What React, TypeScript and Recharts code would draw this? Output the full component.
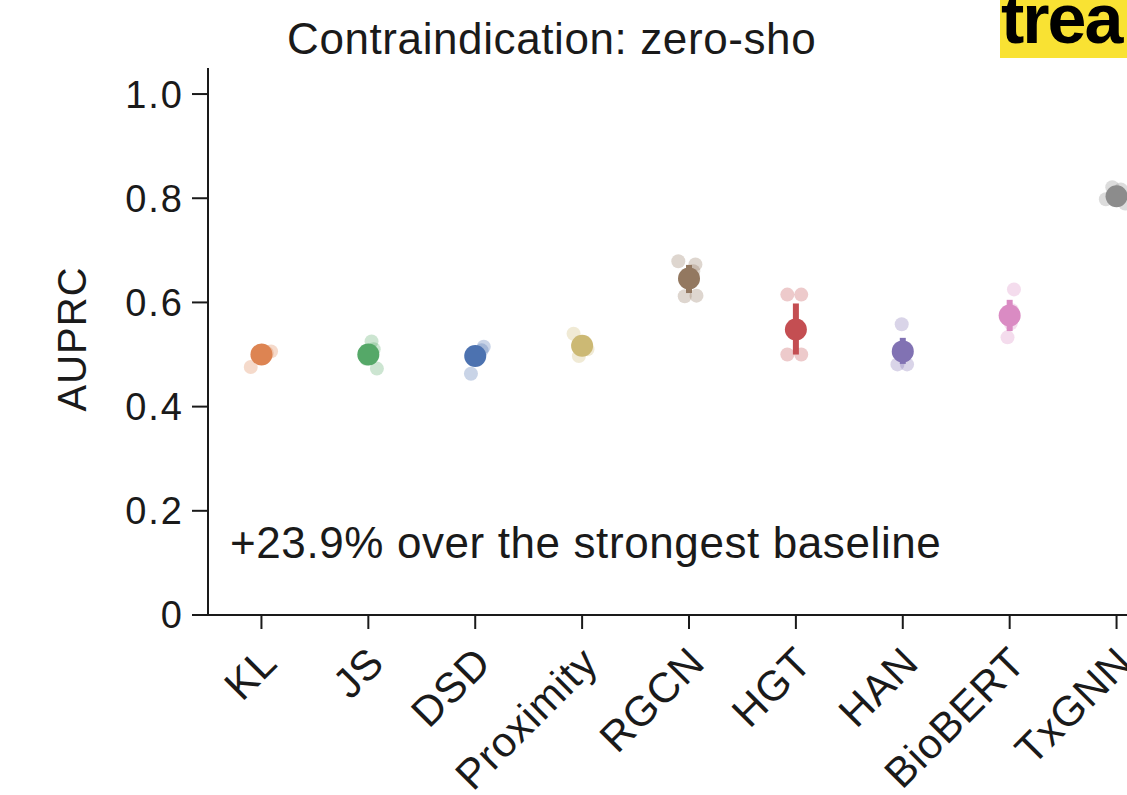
import React from "react";
import { ComposedChart, Scatter, XAxis, YAxis, ErrorBar } from "recharts";

const methods = ["KL", "JS", "DSD", "Proximity", "RGCN", "HGT", "HAN", "BioBERT", "TxGNN"];
const colors = ["#dd8452", "#55a868", "#4c72b0", "#ccb974", "#937860", "#c44e52", "#8172b3", "#da8bc3", "#8c8c8c"];
const means = [0.5, 0.5, 0.497, 0.517, 0.646, 0.548, 0.506, 0.575, 0.804];
const errLow = [0.006, 0.006, 0.006, 0.006, 0.028, 0.048, 0.024, 0.03, 0.006];
const errHigh = [0.006, 0.006, 0.006, 0.006, 0.026, 0.05, 0.026, 0.03, 0.006];

// individual runs, with horizontal jitter (in category units)
const samples = [
  [0.476, 0.506, 0.503, 0.498, 0.5],
  [0.525, 0.473, 0.51, 0.492, 0.5],
  [0.515, 0.463, 0.508, 0.492, 0.5],
  [0.54, 0.497, 0.522, 0.51, 0.515],
  [0.679, 0.673, 0.612, 0.613, 0.66],
  [0.615, 0.615, 0.5, 0.5, 0.548],
  [0.558, 0.481, 0.481, 0.5, 0.51],
  [0.625, 0.533, 0.585, 0.575, 0.56],
  [0.821, 0.798, 0.817, 0.79, 0.8],
];
const jitter = [
  [-0.1, 0.09, 0.05, -0.03, 0.02],
  [0.03, 0.08, 0.05, -0.02, 0.01],
  [0.08, -0.04, 0.06, -0.02, 0.03],
  [-0.08, -0.03, 0.03, 0.05, -0.01],
  [-0.1, 0.06, -0.04, 0.07, 0.04],
  [-0.08, 0.05, -0.08, 0.05, 0.0],
  [-0.01, -0.05, 0.04, 0.02, -0.02],
  [0.04, -0.02, 0.02, -0.03, 0.01],
  [-0.04, -0.1, 0.04, 0.08, 0.0],
];
const yTicks = [0, 0.2, 0.4, 0.6, 0.8, 1.0];

const FONT = "'Liberation Sans', Arial, sans-serif";
const INK = "#1a1a1a";

const XTick = (props: any) => {
  const { x, y, payload } = props;
  const tx = x + 18;
  const ty = y + 34;
  return (
    <text x={tx} y={ty} transform={`rotate(-45 ${tx} ${ty})`} textAnchor="end" fontSize={42} letterSpacing={0.8} fontFamily={FONT} fill={INK}>
      {methods[payload.value]}
    </text>
  );
};

export default function App() {
  return (
    <div style={{ position: "relative", width: 1127, height: 795, overflow: "hidden", background: "#fff" }}>
      <style>{"body{margin:0}"}</style>
      <ComposedChart width={1180} height={795} margin={{ top: 68, right: 10, bottom: 0, left: 0 }}>
        <XAxis
          type="number"
          dataKey="x"
          domain={[-0.5, 8.5]}
          ticks={methods.map((_, i) => i)}
          interval={0}
          tick={<XTick />}
          tickSize={14}
          height={180}
          stroke={INK}
          strokeWidth={2}
          allowDataOverflow
        />
        <YAxis
          type="number"
          dataKey="y"
          domain={[0, 1.05]}
          ticks={yTicks}
          tickFormatter={(v: number) => (v === 0 ? "0" : v.toFixed(1))}
          width={208}
          tickSize={16}
          tickMargin={8}
          stroke={INK}
          strokeWidth={2}
          tick={{ fontSize: 38, letterSpacing: 2, fontFamily: FONT, fill: INK }}
          label={{ value: "AUPRC", angle: -90, position: "insideLeft", offset: 72, fontSize: 40, letterSpacing: 1, fontFamily: FONT, fill: INK, dy: 70 }}
        />
        {methods.map((m, i) => (
          <Scatter
            key={`s-${m}`}
            data={samples[i].map((v, k) => ({ x: i + jitter[i][k], y: v }))}
            isAnimationActive={false}
            shape={(p: any) => <circle cx={p.cx} cy={p.cy} r={7} fill={colors[i]} fillOpacity={0.3} />}
          />
        ))}
        {methods.map((m, i) => (
          <Scatter
            key={`m-${m}`}
            data={[{ x: i, y: means[i], err: [errLow[i], errHigh[i]] }]}
            isAnimationActive={false}
            shape={(p: any) => <circle cx={p.cx} cy={p.cy} r={11} fill={colors[i]} />}
          >
            <ErrorBar dataKey="err" direction="y" width={0} stroke={colors[i]} strokeWidth={6} />
          </Scatter>
        ))}
      </ComposedChart>
      <svg width={1127} height={795} style={{ position: "absolute", left: 0, top: 0, pointerEvents: "none" }}>
        <text x={287} y={54} fontSize={44} letterSpacing={0.6} fontFamily={FONT} fill={INK}>Contraindication: zero-sho</text>
        <text x={230} y={558} fontSize={44} letterSpacing={0.6} fontFamily={FONT} fill={INK}>+23.9% over the strongest baseline</text>
        <rect x={1000} y={0} width={127} height={58} fill="#f9e233" />
        <text x={1001} y={43} fontSize={70} fontWeight="bold" letterSpacing={-2} fontFamily={FONT} fill="#000">trea</text>
      </svg>
    </div>
  );
}
